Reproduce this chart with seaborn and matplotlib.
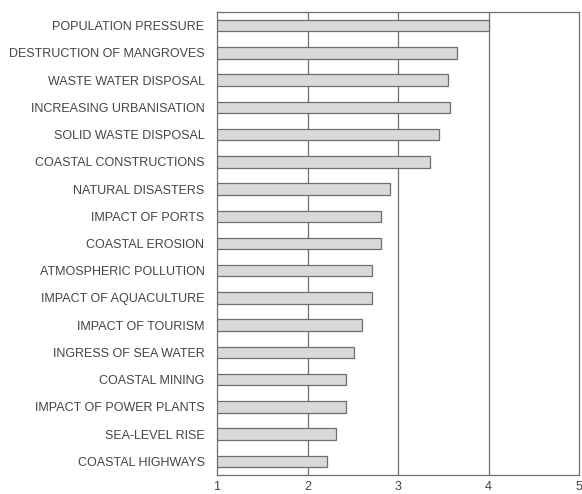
import matplotlib
matplotlib.use("Agg")
import matplotlib.pyplot as plt
import seaborn as sns
import pandas as pd

threats = [
    "POPULATION PRESSURE",
    "DESTRUCTION OF MANGROVES",
    "WASTE WATER DISPOSAL",
    "INCREASING URBANISATION",
    "SOLID WASTE DISPOSAL",
    "COASTAL CONSTRUCTIONS",
    "NATURAL DISASTERS",
    "IMPACT OF PORTS",
    "COASTAL EROSION",
    "ATMOSPHERIC POLLUTION",
    "IMPACT OF AQUACULTURE",
    "IMPACT OF TOURISM",
    "INGRESS OF SEA WATER",
    "COASTAL MINING",
    "IMPACT OF POWER PLANTS",
    "SEA-LEVEL RISE",
    "COASTAL HIGHWAYS",
]
scores = [4.0, 3.65, 3.55, 3.57, 3.45, 3.35, 2.91, 2.81, 2.81, 2.71,
          2.71, 2.60, 2.51, 2.42, 2.42, 2.31, 2.22]
x_ticks = [1, 2, 3, 4, 5]

df = pd.DataFrame({"threat": threats, "score": scores})

sns.set_theme(style="white")
plt.rcParams["font.family"] = ["Liberation Sans", "DejaVu Sans"]

fig = plt.figure(figsize=(5.82, 4.94), dpi=100)
ax = fig.add_axes([217 / 582, 1 - 475 / 494, (579 - 217) / 582, (475 - 12) / 494])

# bars start at the axis origin of 1
df["offset"] = df["score"] - 1
sns.barplot(data=df, x="offset", y="threat", orient="h", color="#d9d9d9",
            edgecolor="#6e6e6e", linewidth=0.9, width=0.42, left=1,
            saturation=1, ax=ax, zorder=3)

for v in x_ticks[1:-1]:
    ax.axvline(v, color="#6e6e6e", linewidth=0.9, zorder=1)

ax.set_xlim(1, 5)
ax.set_ylim(len(threats) - 0.5, -0.5)
ax.set_xticks(x_ticks)
ax.set_xticklabels([str(t) for t in x_ticks])
ax.set_xlabel("")
ax.set_ylabel("")
ax.tick_params(axis="both", length=0, labelsize=9, labelcolor="#444444")
ax.tick_params(axis="y", pad=9)
ax.tick_params(axis="x", pad=4)
for s in ax.spines.values():
    s.set_color("#6e6e6e")
    s.set_linewidth(0.9)

fig.savefig("out.png", dpi=100, facecolor="white")
